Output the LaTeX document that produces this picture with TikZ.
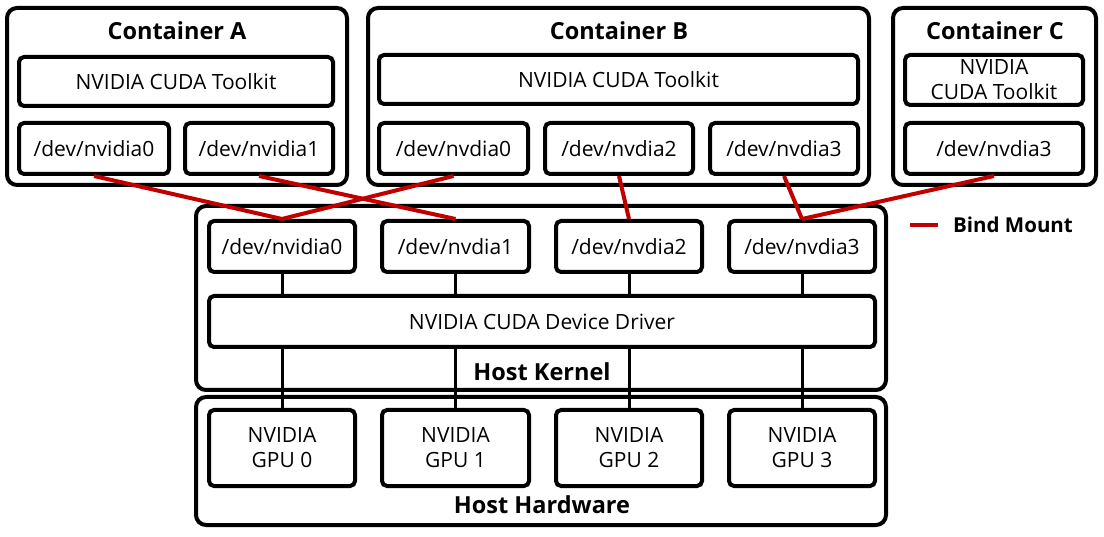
\documentclass[tikz,border=0pt]{standalone}
\usepackage{fontspec}
\setmainfont{Open Sans}
\begin{document}
\begin{tikzpicture}[x=1pt,y=-1pt,
  every node/.style={font=\fontsize{21}{25}\selectfont, inner sep=0pt, align=center},
  outer/.style={draw, line width=4pt, rounded corners=10pt},
  inbox/.style={draw, line width=4pt, rounded corners=5pt},
  title/.style={font=\fontsize{23.5}{25}\selectfont\bfseries},
  wire/.style={line width=3pt},
  bind/.style={line width=4pt, draw=bindred}]
\definecolor{bindred}{HTML}{C00000}
\useasboundingbox (0,0) rectangle (1104,537);
% Containers
\draw[outer] (7,8) rectangle (347,185);
\node[title] (tA) at (177,31) {Container A};
\draw[outer] (368,8) rectangle (869,185);
\node[title] (tB) at (619,31) {Container B};
\draw[outer] (893,8) rectangle (1096,185);
\node[title] (tC) at (995,31) {Container C};
% Host boxes
\draw[outer] (196,206) rectangle (886,390);
\node[title] (tK) at (542,372) {Host Kernel};
\draw[outer] (196,397) rectangle (886,525);
\node[title] (tH) at (542,505) {Host Hardware};
% inner boxes
\node[inbox, minimum width=314pt, minimum height=49pt] (TA) at (176,81.5) {NVIDIA CUDA Toolkit};
\node[inbox, minimum width=150pt, minimum height=51pt] (A0) at (94,148.5) {/dev/nvidia0};
\node[inbox, minimum width=148pt, minimum height=51pt] (A1) at (259,148.5) {/dev/nvidia1};
\node[inbox, minimum width=479pt, minimum height=49pt] (TB) at (618.5,79.5) {NVIDIA CUDA Toolkit};
\node[inbox, minimum width=149pt, minimum height=51pt] (B0) at (453.5,148.5) {/dev/nvdia0};
\node[inbox, minimum width=148pt, minimum height=51pt] (B2) at (619,148.5) {/dev/nvdia2};
\node[inbox, minimum width=148pt, minimum height=51pt] (B3) at (784,148.5) {/dev/nvdia3};
\node[inbox, minimum width=178pt, minimum height=50pt] (TC) at (994,80) {NVIDIA\\CUDA Toolkit};
\node[inbox, minimum width=178pt, minimum height=51pt] (C3) at (994,148.5) {/dev/nvdia3};
% kernel devices
\node[inbox, minimum width=146pt, minimum height=51pt] (K0) at (282,246.5) {/dev/nvidia0};
\node[inbox, minimum width=147pt, minimum height=51pt] (K1) at (455.5,246.5) {/dev/nvdia1};
\node[inbox, minimum width=146pt, minimum height=51pt] (K2) at (629,246.5) {/dev/nvdia2};
\node[inbox, minimum width=146pt, minimum height=51pt] (K3) at (802,246.5) {/dev/nvdia3};
\node[inbox, minimum width=666pt, minimum height=51pt] (DRV) at (542,321.5) {NVIDIA CUDA Device Driver};
% GPUs
\node[inbox, minimum width=146pt, minimum height=76pt] (G0) at (282,448) {NVIDIA\\GPU 0};
\node[inbox, minimum width=147pt, minimum height=76pt] (G1) at (455.5,448) {NVIDIA\\GPU 1};
\node[inbox, minimum width=146pt, minimum height=76pt] (G2) at (629,448) {NVIDIA\\GPU 2};
\node[inbox, minimum width=146pt, minimum height=76pt] (G3) at (802,448) {NVIDIA\\GPU 3};
% wires
\foreach \k/\g in {K0/G0,K1/G1,K2/G2,K3/G3}{
  \draw[wire] (\k.south) -- (\k.south |- DRV.north);
  \draw[wire] (\k.south |- DRV.south) -- (\g.north);
}
% bind mounts
\draw[bind] (A0.south) -- (K0.north);
\draw[bind] (A1.south) -- (K1.north);
\draw[bind] (B0.south) -- (K0.north);
\draw[bind] (B2.south) -- (K2.north);
\draw[bind] (B3.south) -- (K3.north);
\draw[bind] (C3.south) -- (K3.north);
% legend
\coordinate (L1) at (910,225);
\coordinate (L2) at (938,225);
\draw[bind] (L1) -- (L2);
\node[font=\fontsize{20.5}{22}\selectfont\bfseries, anchor=west] (LB) at (953,225) {Bind Mount};
\end{tikzpicture}
\end{document}
